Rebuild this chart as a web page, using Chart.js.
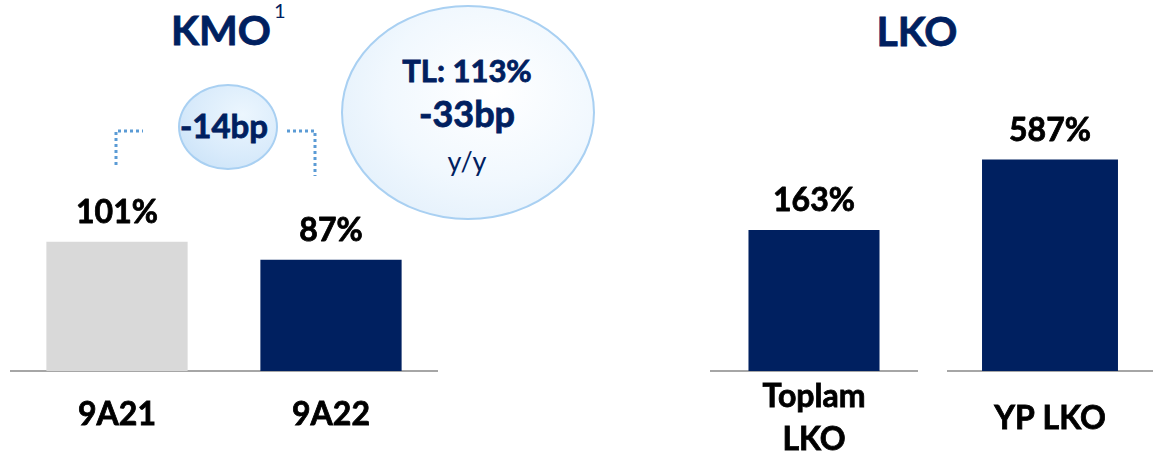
<!DOCTYPE html>
<html lang="tr">
<head>
<meta charset="utf-8">
<title>KMO / LKO</title>
<script src="https://cdn.jsdelivr.net/npm/chart.js@4/dist/chart.umd.min.js"></script>
<style>
  html, body { margin: 0; padding: 0; background: #ffffff; }
  #stage { position: relative; width: 1153px; height: 463px; overflow: hidden; background: #ffffff; font-family: Lato, "Open Sans", sans-serif; }
  canvas { position: absolute; top: 0; }
  .txt { position: absolute; white-space: nowrap; line-height: 1; color: #002060; }
  .bold { font-weight: 700; -webkit-text-stroke: 0.8px #002060; }
  .bubble { position: absolute; border-radius: 50%; box-sizing: border-box; }
  #bubbleSmall {
    left: 178px; top: 84px; width: 100px; height: 86px;
    border: 2px solid #a9d0f2;
    background: radial-gradient(ellipse at 65% 35%, #ecf6fe 0%, #d9ebfb 55%, #c6e0f7 100%);
  }
  #bubbleBig {
    left: 341px; top: 5px; width: 254px; height: 215px;
    border: 2px solid #a9d0f2;
    background: radial-gradient(ellipse at 60% 40%, #ffffff 0%, #f1f8fe 50%, #dcecfa 100%);
  }
  svg { position: absolute; left: 0; top: 0; }
</style>
</head>
<body>
<div id="stage">
  <div class="bubble" id="bubbleBig"></div>
  <div class="bubble" id="bubbleSmall"></div>

  <svg width="1153" height="463">
    <polyline points="116,165 116,131 143,131" fill="none" stroke="#5b9bd5" stroke-width="3" stroke-dasharray="3 3"/>
    <polyline points="287,131 315,131 315,176" fill="none" stroke="#5b9bd5" stroke-width="3" stroke-dasharray="3 3"/>
  </svg>

  <div class="txt bold" id="kmoTitle" style="font-size:41px; left:121px; width:200px; text-align:center; top:8.6px;"></div>
  <div class="txt" id="kmoNote" style="font-size:20px; left:274px; top:0px;"></div>
  <div class="txt bold" id="lkoTitle" style="font-size:41px; left:817px; width:200px; text-align:center; top:9.6px;"></div>

  <div class="txt bold" id="kmoDelta" style="font-size:33px; left:124px; width:200px; text-align:center; top:108.7px;"></div>
  <div class="txt bold" id="tlLevel" style="font-size:31px; left:367px; width:200px; text-align:center; top:54.5px;"></div>
  <div class="txt bold" id="tlDelta" style="font-size:36px; left:367px; width:200px; text-align:center; top:95px;"></div>
  <div class="txt" id="tlPeriod" style="font-size:27px; left:367px; width:200px; text-align:center; top:147px;"></div>

  <canvas id="kmoChart" width="428" height="463" style="left:10px;"></canvas>
  <canvas id="lkoTotalChart" width="208" height="463" style="left:710px;"></canvas>
  <canvas id="lkoFxChart" width="206" height="463" style="left:947px;"></canvas>
</div>

<script>
// ---- data ----
const kmoCategories = ['9A21', '9A22'];
const kmoValues = [101, 87];
const lkoTotalCategories = [['Toplam', 'LKO']];
const lkoTotalValues = [163];
const lkoFxCategories = ['YP LKO'];
const lkoFxValues = [587];

// ---- headings and call-outs ----
const kmoTitle = 'KMO';
const kmoNote = '1';
const lkoTitle = 'LKO';
const kmoDelta = '-14bp';
const tlLevel = 'TL: 113%';
const tlDelta = '-33bp';
const tlPeriod = 'y/y';

document.getElementById('kmoTitle').textContent = kmoTitle;
document.getElementById('kmoNote').textContent = kmoNote;
document.getElementById('lkoTitle').textContent = lkoTitle;
document.getElementById('kmoDelta').textContent = kmoDelta;
document.getElementById('tlLevel').textContent = tlLevel;
document.getElementById('tlDelta').textContent = tlDelta;
document.getElementById('tlPeriod').textContent = tlPeriod;

const NAVY = '#002060';
const LIGHT_GREY = '#d9d9d9';
const FONT = 'Lato, "Open Sans", sans-serif';

// Percent labels printed above each bar
const valueLabels = {
  id: 'valueLabels',
  afterDatasetsDraw(chart) {
    const ctx = chart.ctx;
    const meta = chart.getDatasetMeta(0);
    const values = chart.data.datasets[0].data;
    ctx.save();
    ctx.font = 'bold 32px ' + FONT;
    ctx.fillStyle = '#000000';
    ctx.strokeStyle = '#000000';
    ctx.lineWidth = 0.8;
    ctx.lineJoin = 'round';
    ctx.textAlign = 'center';
    ctx.textBaseline = 'alphabetic';
    meta.data.forEach((bar, i) => {
      const text = values[i] + '%';
      ctx.fillText(text, bar.x, bar.y - 19);
      ctx.strokeText(text, bar.x, bar.y - 19);
    });
    ctx.restore();
  }
};

function makeBarChart(id, labels, values, colors, yMax, barPct, tickPad, lineHeight) {
  return new Chart(document.getElementById(id), {
    type: 'bar',
    data: {
      labels: labels,
      datasets: [{
        data: values,
        backgroundColor: colors,
        borderWidth: 0,
        barPercentage: barPct,
        categoryPercentage: 1
      }]
    },
    options: {
      responsive: false,
      animation: false,
      devicePixelRatio: 1,
      layout: { padding: 0 },
      events: [],
      plugins: { legend: { display: false }, tooltip: { enabled: false } },
      scales: {
        x: {
          grid: { display: false, drawTicks: false },
          border: { display: true, color: '#a6a6a6', width: 2 },
          ticks: {
            color: '#000000',
            textStrokeColor: '#000000',
            textStrokeWidth: 0.8,
            font: { family: FONT, weight: 'bold', size: 32, lineHeight: lineHeight },
            padding: tickPad,
            maxRotation: 0,
            autoSkip: false
          },
          afterFit(scale) { scale.height = 92; }
        },
        y: { display: false, min: 0, max: yMax }
      }
    },
    plugins: [valueLabels]
  });
}

function drawAll() {
  makeBarChart('kmoChart', kmoCategories, kmoValues, [LIGHT_GREY, NAVY], 290, 0.66, 24, 1.2);
  makeBarChart('lkoTotalChart', lkoTotalCategories, lkoTotalValues, [NAVY], 429, 0.63, 4, 1.35);
  makeBarChart('lkoFxChart', lkoFxCategories, lkoFxValues, [NAVY], 1030, 0.66, 28, 1.2);
}

if (document.fonts && document.fonts.load) {
  Promise.all([
    document.fonts.load('bold 32px Lato'),
    document.fonts.load('32px Lato')
  ]).then(drawAll, drawAll);
} else {
  drawAll();
}
</script>
</body>
</html>
